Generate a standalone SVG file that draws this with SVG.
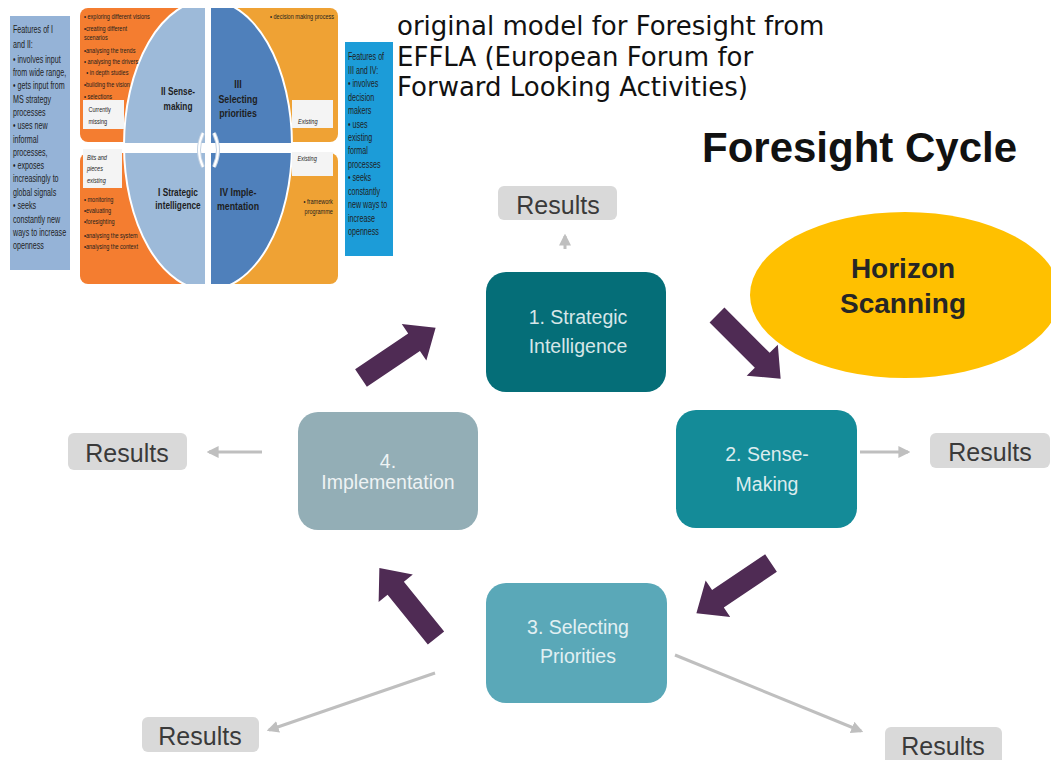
<svg xmlns="http://www.w3.org/2000/svg" width="1051" height="760" viewBox="0 0 1051 760">
<defs>
<style>
.sm{font-family:"Liberation Sans",Arial,sans-serif;fill:#1e1e1e}
.hd{font-family:"Liberation Sans",Arial,sans-serif;font-weight:bold;fill:#1e1e1e;font-size:11px;text-anchor:middle}
.node text{font-family:"Liberation Sans",Arial,sans-serif;font-size:19.5px;text-anchor:middle}
.res rect{fill:#d9d9d9}
.res text{font-family:"Liberation Sans",Arial,sans-serif;font-size:25px;fill:#3a3a3a;text-anchor:middle}
.gl{stroke:#bfbfbf;stroke-width:3;fill:none;marker-end:url(#gh)}
.pa{fill:#4f2b54}
</style>
<marker id="gh" viewBox="0 0 10 10" refX="8" refY="5" markerWidth="4" markerHeight="4" orient="auto" markerUnits="strokeWidth">
<path d="M0,0 L10,5 L0,10 Z" fill="#bfbfbf"/>
</marker>
<path id="blk" d="M0,-10.5 L64,-10.5 L64,-22 L90,0 L64,22 L64,10.5 L0,10.5 Z"/>
<clipPath id="imgclip"><rect x="80" y="8" width="260" height="276"/></clipPath>
</defs>
<rect width="1051" height="760" fill="#ffffff"/>

<!-- EFFLA model picture -->
<g id="effla-model">
<rect x="10" y="16" width="60" height="254" fill="#95b3d7"/>
<rect x="345" y="42" width="48" height="214" fill="#1c9cd8"/>
<rect x="80" y="8" width="120" height="134" rx="8" fill="#f47d30"/>
<rect x="80" y="153" width="120" height="131" rx="8" fill="#f47d30"/>
<rect x="222" y="8" width="116" height="134" rx="8" fill="#efa234"/>
<rect x="222" y="153" width="116" height="131" rx="8" fill="#efa234"/>
<g clip-path="url(#imgclip)">
<path d="M208,0 A84,145 0 0 0 208,290 Z" fill="#9dbad9" stroke="#ffffff" stroke-width="2"/>
<path d="M208,0 A84,145 0 0 1 208,290 Z" fill="#4f80bb" stroke="#ffffff" stroke-width="2"/>
</g>
<rect x="80" y="143" width="260" height="10" fill="#ffffff"/>
<rect x="205" y="8" width="6" height="276" fill="#ffffff"/>
<rect x="83" y="100" width="41" height="29" fill="#f4f4f4"/>
<rect x="83" y="149" width="39" height="39" fill="#f4f4f4"/>
<rect x="292" y="100" width="41" height="28" fill="#f4f4f4"/>
<rect x="292" y="152" width="41" height="24" fill="#f4f4f4"/>
<path d="M203,133 Q195,150 203,167" fill="none" stroke="#c3d2e3" stroke-width="4"/>
<path d="M203,133 Q195,150 203,167" fill="none" stroke="#ffffff" stroke-width="2"/>
<path d="M214,133 Q222,150 214,167" fill="none" stroke="#c3d2e3" stroke-width="4"/>
<path d="M214,133 Q222,150 214,167" fill="none" stroke="#ffffff" stroke-width="2"/>

<g transform="translate(13 0) scale(0.68 1)" class="sm" font-size="10.5">
<text y="33.5">Features of I</text>
<text y="48.5">and II:</text>
<text y="63">• involves input</text>
<text y="76.5">from wide range,</text>
<text y="89.5">• gets input from</text>
<text y="103">MS strategy</text>
<text y="116">processes</text>
<text y="129.5">• uses new</text>
<text y="143">informal</text>
<text y="156">processes,</text>
<text y="169">• exposes</text>
<text y="182.5">increasingly to</text>
<text y="196">global signals</text>
<text y="209.5">• seeks</text>
<text y="223">constantly new</text>
<text y="236">ways to increase</text>
<text y="249.5">openness</text>
</g>
<g transform="translate(348 0) scale(0.68 1)" class="sm" font-size="10.5">
<text y="60.5">Features of</text>
<text y="74">III and IV:</text>
<text y="87.5">• involves</text>
<text y="101">decision</text>
<text y="114.5">makers</text>
<text y="128">• uses</text>
<text y="141">existing</text>
<text y="154.5">formal</text>
<text y="168">processes</text>
<text y="181.5">• seeks</text>
<text y="195">constantly</text>
<text y="208.5">new ways to</text>
<text y="222">increase</text>
<text y="235.5">openness</text>
</g>
<g transform="translate(84 0) scale(0.74 1)" class="sm" font-size="7.5">
<text y="19">• exploring different visions</text>
<text y="31">•creating different</text>
<text y="40">scenarios</text>
<text y="53">•analysing the trends</text>
<text y="64">• analysing the drivers</text>
<text x="3" y="75">• in depth studies</text>
<text y="87.5">•building the vision</text>
<text y="99">• selections</text>
<text x="6" y="112.5">Currently</text>
<text x="6" y="124">missing</text>
<text x="4" y="160.5" font-style="italic">Bits and</text>
<text x="4" y="171.5" font-style="italic">pieces</text>
<text x="4" y="183.5" font-style="italic">existing</text>
<text y="202.5">• monitoring</text>
<text y="213.5">•evaluating</text>
<text y="224.5">•foresighting</text>
<text y="238.5">•analysing the system</text>
<text y="249.5">•analysing the context</text>
</g>
<g transform="translate(270 0) scale(0.74 1)" class="sm" font-size="7.5">
<text y="19.5">• decision making process</text>
<text x="38" y="124" font-style="italic">Existing</text>
<text x="37" y="161.5" font-style="italic">Existing</text>
<text x="85" y="204.5" text-anchor="end">• framework</text>
<text x="85" y="214.5" text-anchor="end">programme</text>
</g>
<g transform="translate(178 0) scale(0.75 1)" class="hd">
<text y="95">II Sense-</text>
<text y="110">making</text>
<text y="196">I Strategic</text>
<text y="209">intelligence</text>
</g>
<g transform="translate(238 0) scale(0.8 1)" class="hd">
<text y="88">III</text>
<text y="103">Selecting</text>
<text y="117">priorities</text>
<text y="196">IV Imple-</text>
<text y="210">mentation</text>
</g>
</g>

<!-- caption -->
<g id="caption" font-family="DejaVu Sans, sans-serif" font-size="26" fill="#111111">
<text x="397" y="35">original model for Foresight from</text>
<text x="397" y="66">EFFLA (European Forum for</text>
<text x="397" y="96">Forward Looking Activities)</text>
</g>
<text id="title" x="702" y="162" font-family="Liberation Sans, Arial, sans-serif" font-weight="bold" font-size="42" fill="#111111">Foresight Cycle</text>

<g id="horizon">
<ellipse cx="905" cy="295" rx="155" ry="83" fill="#ffc000"/>
<text x="903" y="278" font-family="Liberation Sans, Arial, sans-serif" font-weight="bold" font-size="28" fill="#262626" text-anchor="middle">Horizon</text>
<text x="903" y="313" font-family="Liberation Sans, Arial, sans-serif" font-weight="bold" font-size="28" fill="#262626" text-anchor="middle">Scanning</text>
</g>

<g id="node1" class="node">
<rect x="486" y="272" width="180" height="120" rx="20" fill="#056e78"/>
<text x="578" y="324" fill="#d6e6e8">1.  Strategic</text>
<text x="578" y="353" fill="#d6e6e8">Intelligence</text>
</g>
<g id="node2" class="node">
<rect x="676" y="410" width="181" height="118" rx="20" fill="#148b98"/>
<text x="767" y="461" fill="#dcecee">2. Sense-</text>
<text x="767" y="491" fill="#dcecee">Making</text>
</g>
<g id="node3" class="node">
<rect x="486" y="583" width="181" height="120" rx="20" fill="#5aa8b8"/>
<text x="578" y="634" fill="#e2f0f3">3.  Selecting</text>
<text x="578" y="663" fill="#e2f0f3">Priorities</text>
</g>
<g id="node4" class="node">
<rect x="298" y="412" width="180" height="118" rx="20" fill="#93aeb6"/>
<text x="388" y="468" fill="#eef3f4">4.</text>
<text x="388" y="489" fill="#eef3f4">Implementation</text>
</g>

<g id="results-top" class="res"><rect x="498" y="186" width="119" height="34" rx="6"/><text x="558" y="214">Results</text></g>
<g id="results-left" class="res"><rect x="68" y="433" width="119" height="37" rx="6"/><text x="127" y="462">Results</text></g>
<g id="results-right" class="res"><rect x="930" y="433" width="120" height="35" rx="6"/><text x="990" y="461">Results</text></g>
<g id="results-bl" class="res"><rect x="142" y="717" width="117" height="35" rx="6"/><text x="200" y="745">Results</text></g>
<g id="results-br" class="res"><rect x="885" y="727" width="117" height="40" rx="6"/><text x="943" y="755">Results</text></g>

<g id="connectors">
<line class="gl" x1="565" y1="249" x2="565" y2="236"/>
<line class="gl" x1="262" y1="452" x2="209" y2="452"/>
<line class="gl" x1="860" y1="452" x2="908" y2="452"/>
<line class="gl" x1="435" y1="673" x2="269" y2="730"/>
<line class="gl" x1="675" y1="655" x2="861" y2="731"/>
<use href="#blk" class="pa" transform="translate(361 378) rotate(-34)"/>
<use href="#blk" class="pa" transform="translate(717 315) rotate(45)"/>
<use href="#blk" class="pa" transform="translate(771 563) rotate(146)"/>
<use href="#blk" class="pa" transform="translate(436 638) rotate(231)"/>
</g>
</svg>
